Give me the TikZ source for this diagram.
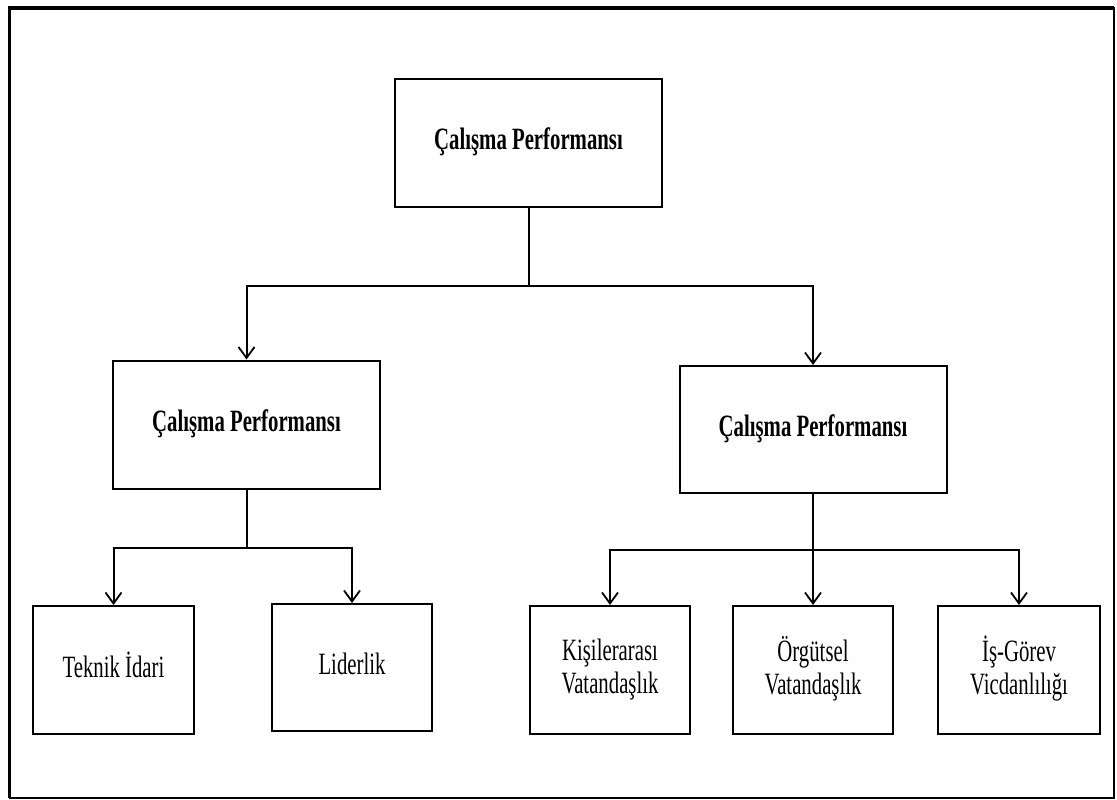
\documentclass[tikz,border=0pt]{standalone}
\usepackage{fontspec}
\setmainfont{Liberation Serif}
\usepackage{graphicx}
\usetikzlibrary{arrows.meta}
\newcommand{\sqtext}[1]{\scalebox{0.67}[1]{\begin{tabular}{@{}c@{}}#1\end{tabular}}}
\tikzset{
  box/.style={draw, line width=2pt, inner sep=0pt, align=center,
    font=\fontsize{31}{33}\selectfont},
  bigbox/.style={box, minimum width=267pt, minimum height=128pt},
  leafbox/.style={box, minimum width=161pt, minimum height=128pt},
  link/.style={line width=2pt},
  arr/.style={link, -{Straight Barb[length=11pt,width=16pt,line width=1.8pt]}}
}
\begin{document}
\begin{tikzpicture}[x=1pt,y=-1pt]
\useasboundingbox (0,0) rectangle (1117,800);
% outer frame
\draw[line width=2pt] (9.5,8) rectangle (1114,798);
\draw[line width=3.5pt] (9.5,798) -- (9.5,8) -- (1114,8);
% nodes
\node[bigbox] (top) at (528.5,143) {\sqtext{\textbf{Çalışma Performansı}}};
\node[bigbox] (lm) at (246.5,424.5) {\sqtext{\textbf{Çalışma Performansı}}};
\node[bigbox, minimum height=127pt] (rm) at (813,429.5) {\sqtext{\textbf{Çalışma Performansı}}};
\node[leafbox] (tek) at (113.5,670) {\sqtext{Teknik İdari}};
\node[leafbox, minimum width=160pt, minimum height=127pt] (lid) at (352,667.5) {\sqtext{Liderlik}};
\node[leafbox, minimum width=160pt] (kis) at (610,670) {\sqtext{Kişilerarası\\Vatandaşlık}};
\node[leafbox, minimum width=160pt] (org) at (813,670) {\sqtext{Örgütsel\\Vatandaşlık}};
\node[leafbox, minimum width=162pt] (isg) at (1019,670) {\sqtext{İş-Görev\\Vicdanlılığı}};
% junctions
\coordinate (j1) at (528.5,285.5);
\coordinate (j2) at (246.5,548);
\coordinate (j3) at (813,550);
% connectors
\draw[link] (top.south) -- (j1);
\draw[arr] (j1) -| (lm.north);
\draw[arr] (j1) -| (rm.north);
\draw[link] (lm.south) -- (j2);
\draw[arr] (j2) -| (tek.north);
\draw[arr] (j2) -| (lid.north);
\draw[arr] (rm.south) -- (org.north);
\draw[arr] (j3) -| (kis.north);
\draw[arr] (j3) -| (isg.north);
\end{tikzpicture}
\end{document}
